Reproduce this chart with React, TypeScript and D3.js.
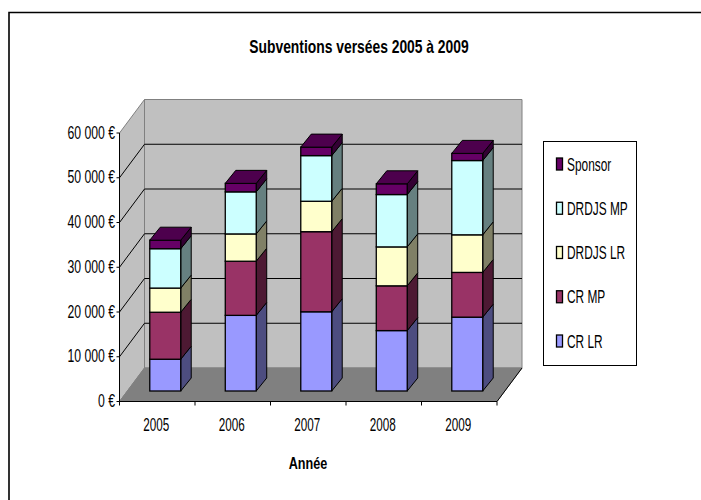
import { useEffect, useRef } from 'react'
import * as d3 from 'd3'

const years = ['2005', '2006', '2007', '2008', '2009']
const seriesNames = ['CR LR', 'CR MP', 'DRDJS LR', 'DRDJS MP', 'Sponsor']
const crLr = [7100, 16900, 17700, 13500, 16500]
const crMp = [10500, 12100, 17900, 10000, 10000]
const drdjsLr = [5400, 6100, 6800, 8700, 8400]
const drdjsMp = [8800, 9400, 10200, 11700, 16600]
const sponsor = [1900, 1900, 1900, 2400, 1600]
const colors = ['#9999FF', '#993366', '#FFFFCC', '#CCFFFF', '#660066']
const sideColors = ['#4D4D80', '#4D1933', '#808066', '#668080', '#330033']
const yTicks = [0, 10000, 20000, 30000, 40000, 50000, 60000]

const font = '"Liberation Sans", Arial, sans-serif'

const left = 119.5
const right = 497
const dx = 25
const dy = 33.5

function App() {
	const ref = useRef<SVGSVGElement>(null)

	useEffect(() => {
		const svg = d3.select(ref.current)
		svg.selectAll('*').remove()

		const rows = years.map((y, i) => ({
			year: y,
			'CR LR': crLr[i],
			'CR MP': crMp[i],
			'DRDJS LR': drdjsLr[i],
			'DRDJS MP': drdjsMp[i],
			Sponsor: sponsor[i]
		}))
		const stack = d3.stack<any>().keys(seriesNames)(rows)

		const x = d3.scaleBand().domain(years).range([left, right]).paddingInner(0.59).paddingOuter(0.295)
		const xTick = d3.scaleBand().domain(years).range([left, right])
		const y = d3.scaleLinear().domain([0, 60000]).range([401.5, 133])

		const pts = (p: number[][]) => p.map(d => d.join(',')).join(' ')

		// condensed text: no narrow font here so squeeze it horizontally
		const label = (str: string, tx: number, ty: number, size: number, sx: number, anchor: string, weight = 'normal') =>
			svg.append('text')
				.attr('transform', `translate(${tx},${ty}) scale(${sx},1)`)
				.attr('text-anchor', anchor)
				.attr('font-family', font)
				.attr('font-size', size)
				.attr('font-weight', weight)
				.attr('fill', '#000')
				.text(str)

		// page frame, only top and left edges show
		svg.append('path').attr('d', 'M9,500V12.5H701').attr('fill', 'none').attr('stroke', '#000').attr('stroke-width', 1.6)

		// walls and floor
		svg.append('polygon')
			.attr('points', pts([[left + dx, y(60000) - dy], [right + dx, y(60000) - dy], [right + dx, y(0) - dy], [left + dx, y(0) - dy]]))
			.attr('fill', '#c0c0c0').attr('stroke', '#808080').attr('stroke-width', 1)
		svg.append('polygon')
			.attr('points', pts([[left, y(60000)], [left + dx, y(60000) - dy], [left + dx, y(0) - dy], [left, y(0)]]))
			.attr('fill', '#c0c0c0').attr('stroke', '#808080').attr('stroke-width', 1)
		svg.append('polygon')
			.attr('points', pts([[left, y(0)], [left + dx, y(0) - dy], [right + dx, y(0) - dy], [right, y(0)]]))
			.attr('fill', '#808080').attr('stroke', '#808080').attr('stroke-width', 1)

		// gridlines
		yTicks.filter(t => t > 0 && t < 60000).forEach(t => {
			svg.append('polyline')
				.attr('points', pts([[left, y(t)], [left + dx, y(t) - dy], [right + dx, y(t) - dy]]))
				.attr('fill', 'none').attr('stroke', '#000').attr('stroke-width', 1)
		})

		// axis lines
		svg.append('line').attr('x1', left).attr('x2', left).attr('y1', y(60000)).attr('y2', y(0)).attr('stroke', '#000')
		svg.append('line').attr('x1', left).attr('x2', right).attr('y1', y(0)).attr('y2', y(0)).attr('stroke', '#000')
		svg.append('line').attr('x1', right).attr('x2', right + dx).attr('y1', y(0)).attr('y2', y(0) - dy).attr('stroke', '#000')

		yTicks.forEach(t => {
			svg.append('line').attr('x1', left - 3).attr('x2', left).attr('y1', y(t)).attr('y2', y(t)).attr('stroke', '#000')
			label(`${d3.format(',')(t).replace(',', ' ')} €`, 115, y(t) + 5.5, 18, 0.68, 'end')
		})
		years.concat(['']).forEach((yr, i) => {
			const tx = left + i * xTick.step()
			svg.append('line').attr('x1', tx).attr('x2', tx).attr('y1', y(0)).attr('y2', y(0) + 4).attr('stroke', '#000')
			if (yr) label(yr, (xTick(yr) as number) + xTick.bandwidth() / 2 - 1, 431, 18, 0.65, 'middle')
		})

		// stacked boxes, bottom series first, bars left to right
		const baseShift = { x: 8, y: 10.5 }
		const depth = { x: 10.5, y: 13 }
		years.forEach((yr, i) => {
			const x0 = (x(yr) as number) + baseShift.x
			const x1 = x0 + x.bandwidth()
			stack.forEach((s, k) => {
				const yb = y(s[i][0]) - baseShift.y
				const yt = y(s[i][1]) - baseShift.y
				svg.append('polygon')
					.attr('points', pts([[x1, yb], [x1 + depth.x, yb - depth.y], [x1 + depth.x, yt - depth.y], [x1, yt]]))
					.attr('fill', sideColors[k]).attr('stroke', '#000').attr('stroke-width', 1)
				svg.append('rect').attr('x', x0).attr('y', yt).attr('width', x1 - x0).attr('height', yb - yt)
					.attr('fill', colors[k]).attr('stroke', '#000').attr('stroke-width', 1.3)
				if (k === stack.length - 1) {
					svg.append('polygon')
						.attr('points', pts([[x0, yt], [x1, yt], [x1 + depth.x, yt - depth.y], [x0 + depth.x, yt - depth.y]]))
						.attr('fill', '#4d004d').attr('stroke', '#000').attr('stroke-width', 1)
				}
			})
		})

		// title
		label('Subventions versées 2005 à 2009', 359, 53, 18, 0.77, 'middle', 'bold')
		label('Année', 308, 469, 16, 0.79, 'middle', 'bold')

		// legend
		svg.append('rect').attr('x', 543.5).attr('y', 141.5).attr('width', 93).attr('height', 224)
			.attr('fill', '#fff').attr('stroke', '#000').attr('stroke-width', 1)
		const ly = d3.scalePoint().domain(seriesNames.slice().reverse()).range([164, 341])
		seriesNames.forEach((name, k) => {
			const cy = ly(name) as number
			svg.append('rect').attr('x', 556.5).attr('y', cy - 6).attr('width', 6).attr('height', 12)
				.attr('fill', colors[k]).attr('stroke', '#000').attr('stroke-width', 1.3)
			label(name, 567, cy + 6.5, 18, 0.66, 'start')
		})
	}, [])

	return <svg ref={ref} width={701} height={500} style={{ position: 'absolute', left: 0, top: 0 }} />
}

export default App
